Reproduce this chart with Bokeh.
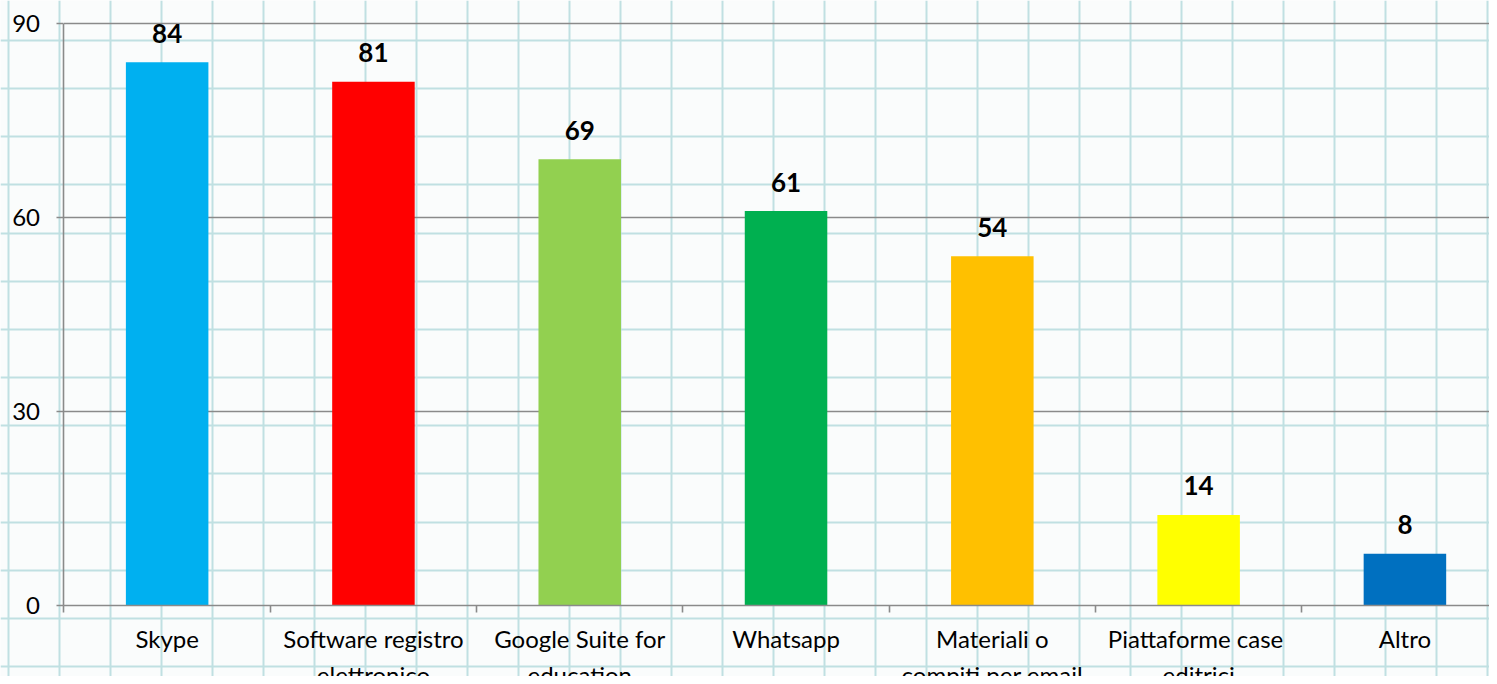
import numpy as np
from bokeh.plotting import figure
from bokeh.models import Range1d, LinearAxis, FixedTicker, Grid, ColumnDataSource
from bokeh.core.properties import value
from bokeh.embed import file_html
from bokeh.resources import INLINE

# ---- data ----
categories = ["Skype", "Software registro\nelettronico", "Google Suite for\neducation",
              "Whatsapp", "Materiali o\ncompiti per email", "Piattaforme  case\neditrici", "Altro"]
values = [84, 81, 69, 61, 54, 14, 8]
colors = ["#00B0F0", "#FF0000", "#92D050", "#00B050", "#FFC000", "#FFFF00", "#0070C0"]
y_ticks = [0, 30, 60, 90]
grid_values = [30, 60, 90]

FONT = "Lato"
AXIS_GRAY = "#8a8a8a"
PAPER_LINE = "#c0e0e2"

n = len(categories)
centers = [i + 0.5 for i in range(n)]
bounds_x = list(range(n + 1))

W, H = 1489, 676
p = figure(width=W, height=H, output_backend="svg", toolbar_location=None,
           x_range=Range1d(-0.3078, 6.910), y_range=Range1d(-10.979, 93.557),
           x_axis_location=None, y_axis_location=None,
           min_border=0, min_border_left=0, min_border_right=0,
           min_border_top=0, min_border_bottom=0)
p.outline_line_color = None
p.background_fill_color = "#fafcfc"
p.border_fill_color = "#fafcfc"
p.xgrid.visible = False
p.ygrid.visible = False

# graph-paper background (decoration)
v_lines = list(np.arange(0.968 - 0.2472 * 5, 7.0, 0.2472))
h_lines = list(np.arange(87.4 - 7.45 * 14, 95.0, 7.45))
p.add_layout(Grid(dimension=0, ticker=FixedTicker(ticks=v_lines),
                  grid_line_color=PAPER_LINE, grid_line_width=2))
p.add_layout(Grid(dimension=1, ticker=FixedTicker(ticks=h_lines),
                  grid_line_color=PAPER_LINE, grid_line_width=2))

# value gridlines
p.segment(x0=[0] * len(grid_values), x1=[n] * len(grid_values), y0=grid_values, y1=grid_values,
          line_color=AXIS_GRAY, line_width=1.6)

src = ColumnDataSource(dict(x=centers, top=values, color=colors,
                            label=[str(v) for v in values]))
p.vbar(x="x", top="top", width=0.4, bottom=0, fill_color="color", line_color=None, source=src)
p.text(x="x", y="top", text="label", source=src, text_align="center",
       text_baseline="alphabetic", y_offset=-29, text_font=value(FONT),
       text_font_style="bold", text_font_size="26px", text_color="#000000")

# y axis
yaxis = LinearAxis(fixed_location=0, bounds=(0, 90), ticker=FixedTicker(ticks=y_ticks))
yaxis.axis_line_color = AXIS_GRAY
yaxis.axis_line_width = 1.6
yaxis.major_tick_line_color = AXIS_GRAY
yaxis.major_tick_line_width = 1.6
yaxis.major_tick_out = 7
yaxis.major_tick_in = 0
yaxis.minor_tick_line_color = None
yaxis.major_label_standoff = 17
yaxis.major_label_text_font = FONT
yaxis.major_label_text_font_size = "24px"
yaxis.major_label_text_color = "#000000"
p.add_layout(yaxis, "left")

# x axis
xaxis = LinearAxis(fixed_location=0, bounds=(0, n),
                   ticker=FixedTicker(ticks=centers, minor_ticks=bounds_x))
xaxis.major_label_overrides = {c: lab for c, lab in zip(centers, categories)}
xaxis.axis_line_color = AXIS_GRAY
xaxis.axis_line_width = 1.6
xaxis.major_tick_line_color = None
xaxis.major_tick_out = 0
xaxis.major_tick_in = 0
xaxis.minor_tick_line_color = AXIS_GRAY
xaxis.minor_tick_line_width = 1.6
xaxis.minor_tick_out = 7
xaxis.minor_tick_in = 0
xaxis.major_label_standoff = 11
xaxis.major_label_text_font = FONT
xaxis.major_label_text_font_size = "24px"
xaxis.major_label_text_color = "#000000"
xaxis.major_label_text_line_height = 1.25
p.add_layout(xaxis, "below")

open("out.html", "w").write(file_html(p, INLINE))
